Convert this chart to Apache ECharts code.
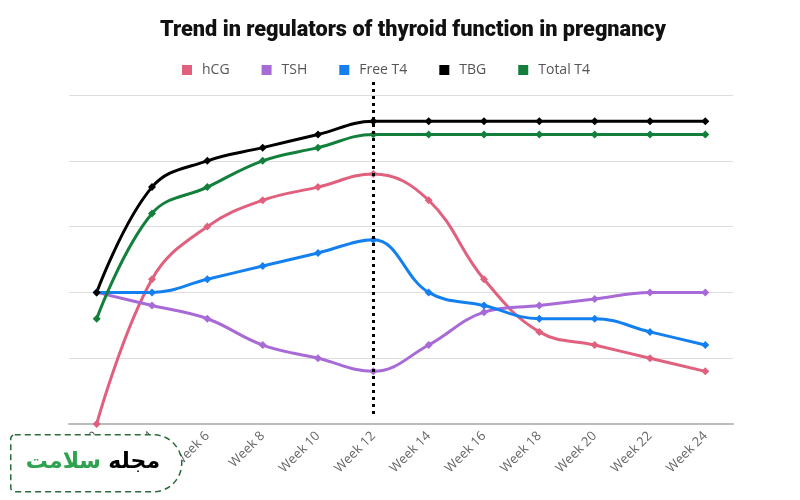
<!DOCTYPE html>
<html>
<head>
<meta charset="utf-8">
<script src="https://cdn.jsdelivr.net/npm/echarts@6/dist/echarts.min.js"></script>
<style>
  html, body { margin: 0; padding: 0; background: #fff; }
  #chart { width: 800px; height: 500px; }
</style>
</head>
<body>
<div id="chart"></div>
<script>
// weeks on the x axis
var weeks = ['Week 2', 'Week 4', 'Week 6', 'Week 8', 'Week 10', 'Week 12',
             'Week 14', 'Week 16', 'Week 18', 'Week 20', 'Week 22', 'Week 24'];

// relative levels
var hcg     = [0.0, 2.2, 3.0, 3.4, 3.6, 3.8, 3.4, 2.2, 1.4, 1.2, 1.0, 0.8];
var tsh     = [2.0, 1.8, 1.6, 1.2, 1.0, 0.8, 1.2, 1.7, 1.8, 1.9, 2.0, 2.0];
var freeT4  = [2.0, 2.0, 2.2, 2.4, 2.6, 2.8, 2.0, 1.8, 1.6, 1.6, 1.4, 1.2];
var tbg     = [2.0, 3.6, 4.0, 4.2, 4.4, 4.6, 4.6, 4.6, 4.6, 4.6, 4.6, 4.6];
var totalT4 = [1.6, 3.2, 3.6, 4.0, 4.2, 4.4, 4.4, 4.4, 4.4, 4.4, 4.4, 4.4];

var names  = ['hCG', 'TSH', 'Free T4', 'TBG', 'Total T4'];
var colors = ['#e0607e', '#a86ad6', '#1480ef', '#000000', '#12803c'];
var markWeek = 'Week 12';

var myChart = echarts.init(document.getElementById('chart'));

// 一条线的通用配置
var makeLine = function (name, data, color) {
    return {
        name: name,
        type: 'line',
        data: data,
        smooth: 0.4,
        symbol: 'diamond',
        symbolSize: 8,
        showSymbol: true,
        lineStyle: { width: 3, color: color },
        itemStyle: { color: color }
    };
};

var series = [
    makeLine(names[0], hcg, colors[0]),
    makeLine(names[1], tsh, colors[1]),
    makeLine(names[2], freeT4, colors[2]),
    makeLine(names[3], tbg, colors[3]),
    makeLine(names[4], totalT4, colors[4])
];

// dotted marker at week 12, on a second (taller) hidden grid
series.push({
    name: 'marker',
    type: 'line',
    xAxisIndex: 1,
    yAxisIndex: 1,
    data: [],
    markLine: {
        silent: true,
        symbol: 'none',
        label: { show: false },
        lineStyle: { color: '#000', width: 3, type: [3, 4] },
        data: [{ xAxis: markWeek }]
    }
});

myChart.setOption({
    animation: false,
    color: colors,
    title: {
        text: 'Trend in regulators of thyroid function in pregnancy',
        left: 155,
        top: 15,
        textStyle: {
            fontFamily: 'Roboto',
            fontWeight: 900,
            fontSize: 21.7,
            color: '#111'
        }
    },
    legend: {
        data: names,
        left: 177,
        top: 58,
        icon: 'rect',
        itemWidth: 10,
        itemHeight: 10,
        itemGap: 32,
        textStyle: { fontFamily: 'Open Sans', fontSize: 14, color: '#555', padding: [0, 0, 0, 5] }
    },
    grid: [
        { left: 69, right: 67, top: 95, bottom: 76, containLabel: false },
        { left: 69, right: 67, top: 82, bottom: 86, containLabel: false }
    ],
    xAxis: [
        {
            type: 'category',
            data: weeks,
            boundaryGap: true,
            axisTick: { show: false },
            axisLine: { lineStyle: { color: '#bbb', width: 2 } },
            axisLabel: {
                rotate: 45,
                margin: 10,
                interval: 0,
                color: '#666',
                fontFamily: 'Open Sans',
                fontSize: 13
            }
        },
        {
            type: 'category',
            gridIndex: 1,
            data: weeks,
            boundaryGap: true,
            show: false
        }
    ],
    yAxis: [
        {
            type: 'value',
            min: 0,
            max: 5,
            interval: 1,
            axisLabel: { show: false },
            axisLine: { show: false },
            axisTick: { show: false },
            splitLine: { lineStyle: { color: '#ddd', width: 1 } }
        },
        {
            type: 'value',
            gridIndex: 1,
            min: 0,
            max: 1,
            show: false,
            splitLine: { show: false }
        }
    ],
    series: series,
    graphic: [
        {
            type: 'rect',
            left: 10,
            top: 434,
            shape: { width: 171, height: 57, r: [4, 30, 30, 4] },
            style: { fill: '#fff', stroke: '#2a6a3c', lineWidth: 1.5, lineDash: [6, 4] },
            z: 100
        },
        {
            type: 'text',
            x: 160,
            y: 462,
            style: {
                text: 'مجله',
                fill: '#000',
                align: 'right',
                verticalAlign: 'middle',
                font: 'bold 22px "DejaVu Sans"'
            },
            z: 101
        },
        {
            type: 'text',
            x: 101,
            y: 462,
            style: {
                text: 'سلامت',
                fill: '#2ea34f',
                align: 'right',
                verticalAlign: 'middle',
                font: 'bold 22px "DejaVu Sans"'
            },
            z: 101
        }
    ]
});
</script>
</body>
</html>
